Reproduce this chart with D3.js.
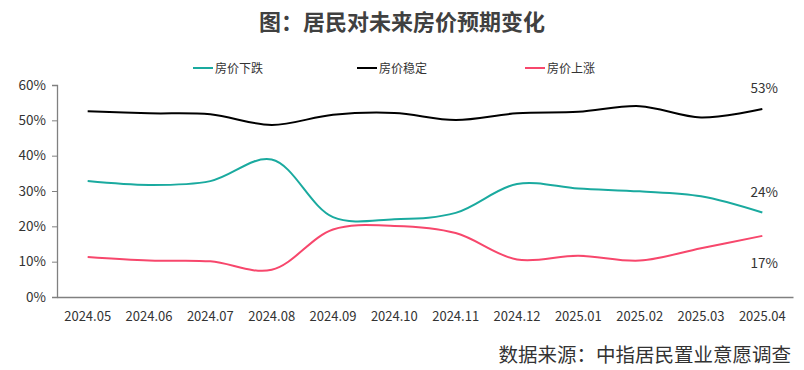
<!DOCTYPE html>
<html><head><meta charset="utf-8">
<script src="https://cdn.jsdelivr.net/npm/d3@7"></script>
<style>body{margin:0;background:#fff}svg{display:block}</style>
</head><body>
<svg id="c" width="804" height="370"></svg>
<script>
const months = ["2024.05","2024.06","2024.07","2024.08","2024.09","2024.10","2024.11","2024.12","2025.01","2025.02","2025.03","2025.04"];
const fallValues   = [32.8,31.7,32.8,38.9,22.6,22.0,23.8,32.0,30.7,29.9,28.5,23.9];
const stableValues = [52.6,52.0,51.7,48.7,51.6,52.1,50.1,52.0,52.4,54.0,50.8,53.2];
const riseValues   = [11.3,10.3,10.1,7.7,19.1,20.1,18.1,10.6,11.7,10.3,13.8,17.3];
const seriesNames = ["房价下跌","房价稳定","房价上涨"];
const yTicks = [0,10,20,30,40,50,60];
const endLabels = ["24%","53%","17%"];

(function(){
const colors = ["#1aaa9f","#000000","#f7476c"];
const series = [fallValues, stableValues, riseValues];
const font = "'Noto Sans CJK SC','Microsoft YaHei',sans-serif";

const svg = d3.select("#c");
const mL = 57, mR = 793, mT = 85, mB = 297;
const x = d3.scaleBand().domain(months).range([mL, mR]);
const y = d3.scaleLinear().domain([0,60]).range([mB, mT]);
const cx = d => x(d) + x.bandwidth()/2;

svg.append("text").attr("x",402).attr("y",30).attr("text-anchor","middle")
  .attr("font-family",font).attr("font-weight","bold").attr("font-size",22)
  .attr("fill","#404040").text("图：居民对未来房价预期变化");

const legX = [193, 357, 525];
seriesNames.forEach((n,i)=>{
  const g = svg.append("g").attr("transform",`translate(${legX[i]},68)`);
  g.append("line").attr("x1",0).attr("x2",20).attr("y1",0).attr("y2",0)
    .attr("stroke",colors[i]).attr("stroke-width",2);
  g.append("text").attr("x",22).attr("y",4.5).attr("font-family",font)
    .attr("font-size",12).attr("fill","#333").text(n);
});

const yAxis = svg.append("g").attr("transform",`translate(${mL},0)`)
  .call(d3.axisLeft(y).tickValues(yTicks).tickFormat(d=>d+"%").tickSize(5).tickPadding(6));
yAxis.select(".domain").attr("stroke","#808080").attr("stroke-width",1.3);
yAxis.selectAll(".tick line").attr("stroke","#808080");
yAxis.selectAll("text").attr("font-family",font).attr("font-size",13.5).attr("fill","#333");

const xAxis = svg.append("g").attr("transform",`translate(0,${mB})`)
  .call(d3.axisBottom(x).tickSize(0).tickPadding(15));
xAxis.select(".domain").attr("stroke","#808080").attr("stroke-width",1.5);
xAxis.selectAll("text").attr("font-family",font).attr("font-size",13).attr("fill","#333");

const line = d3.line().x((d,i)=>cx(months[i])).y(d=>y(d)).curve(d3.curveCatmullRom.alpha(0.5));
series.forEach((s,i)=>{
  svg.append("path").datum(s).attr("d",line).attr("fill","none")
    .attr("stroke",colors[i]).attr("stroke-width",2);
});

const last = months[months.length-1];
const endY = [192, 88, 263];
endLabels.forEach((t,i)=>{
  svg.append("text").attr("x",cx(last)+2).attr("y",endY[i]+5).attr("text-anchor","middle")
    .attr("font-family",font).attr("font-size",13.5).attr("fill","#333").text(t);
});

svg.append("text").attr("x",791).attr("y",362).attr("text-anchor","end")
  .attr("font-family",font).attr("font-size",19.5).attr("fill","#333")
  .text("数据来源：中指居民置业意愿调查");
})();
</script>
</body></html>
